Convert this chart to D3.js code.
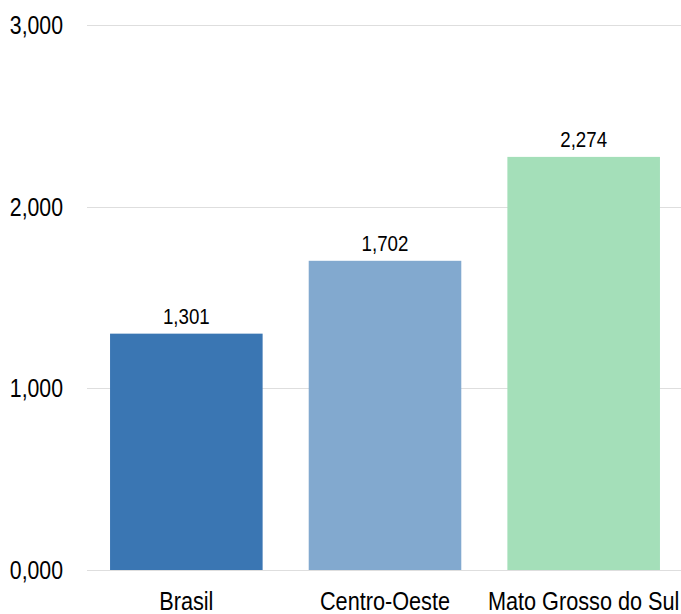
<!DOCTYPE html>
<html>
<head>
<meta charset="utf-8">
<script src="https://cdn.jsdelivr.net/npm/d3@7"></script>
<style>
  html, body { margin: 0; padding: 0; background: #fff; }
  svg { display: block; }
</style>
</head>
<body>
<svg id="chart" width="681" height="614"></svg>
<script>
// Regions and their values
const categories = ["Brasil", "Centro-Oeste", "Mato Grosso do Sul"];
const values = [1.301, 1.702, 2.274];
const barColors = ["#3a76b3", "#82a9cf", "#a4dfb9"];
const yTicks = [0, 1, 2, 3];
const yTickLabels = ["0,000", "1,000", "2,000", "3,000"];

const W = 681, H = 614;
const margin = { left: 87, right: -2, top: 25, bottom: 44 };
const font = "'Liberation Sans', Arial, sans-serif";
const squeeze = 0.85; // horizontal condensing of all text

const svg = d3.select("#chart");

const x = d3.scaleBand()
  .domain(categories)
  .range([margin.left, W - margin.right])
  .paddingInner(0.232)
  .paddingOuter(0.116);

const y = d3.scaleLinear()
  .domain([0, 3])
  .range([H - margin.bottom, margin.top]);

const fmt = d3.format(",.3f");
const toLabel = v => fmt(v).replace(".", ",");

const place = (px, py) => `translate(${px},${py}) scale(${squeeze},1)`;

// Horizontal gridlines
svg.append("g")
  .selectAll("line")
  .data(yTicks)
  .join("line")
  .attr("x1", margin.left)
  .attr("x2", W)
  .attr("y1", d => Math.round(y(d)) + 0.5)
  .attr("y2", d => Math.round(y(d)) + 0.5)
  .attr("stroke", "#dedede")
  .attr("stroke-width", 1);

// Y tick labels
svg.append("g")
  .selectAll("text")
  .data(yTicks)
  .join("text")
  .attr("transform", d => place(63, y(d)))
  .attr("dy", "0.36em")
  .attr("text-anchor", "end")
  .attr("font-family", font)
  .attr("font-size", 25)
  .attr("fill", "#000")
  .text((d, i) => yTickLabels[i]);

// Bars
svg.append("g")
  .selectAll("rect")
  .data(values)
  .join("rect")
  .attr("x", (d, i) => x(categories[i]))
  .attr("width", x.bandwidth())
  .attr("y", d => y(d))
  .attr("height", d => y(0) - y(d))
  .attr("fill", (d, i) => barColors[i]);

// Value labels above bars
svg.append("g")
  .selectAll("text")
  .data(values)
  .join("text")
  .attr("transform", (d, i) => place(x(categories[i]) + x.bandwidth() / 2, y(d) - 10))
  .attr("text-anchor", "middle")
  .attr("font-family", font)
  .attr("font-size", 22)
  .attr("fill", "#000")
  .text(d => toLabel(d));

// Category labels
svg.append("g")
  .selectAll("text")
  .data(categories)
  .join("text")
  .attr("transform", d => place(x(d) + x.bandwidth() / 2, 610))
  .attr("text-anchor", "middle")
  .attr("font-family", font)
  .attr("font-size", 25.5)
  .attr("fill", "#000")
  .text(d => d);
</script>
</body>
</html>
